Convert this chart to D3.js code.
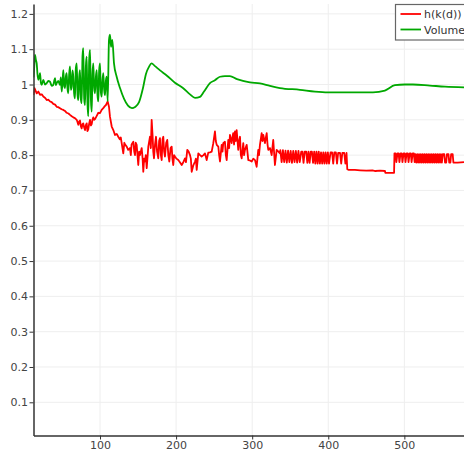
<!DOCTYPE html>
<html><head><meta charset="utf-8">
<script src="https://cdn.jsdelivr.net/npm/d3@7"></script>
<style>body{margin:0;background:#fff} svg{display:block;font-family:"DejaVu Sans",sans-serif}</style>
</head><body><svg id="c" width="464" height="454"></svg>
<script>
// ---------- data ----------
const seriesNames = ["h(k(d))", "Volume"];
const seriesColors = ["#ff0000", "#00a800"];
const xTicks = [100, 200, 300, 400, 500];
const xTickLabels = ["100", "200", "300", "400", "500"];
const yTicks = [0.1, 0.2, 0.3, 0.4, 0.5, 0.6, 0.7, 0.8, 0.9, 1, 1.1, 1.2];
const yTickLabels = ["0.1", "0.2", "0.3", "0.4", "0.5", "0.6", "0.7", "0.8", "0.9", "1", "1.1", "1.2"];

// h(k(d)) : [time step, value]
const hkd = [
  [12.6,0.97],[13.9,0.99],[16.8,0.975],[19,0.98],[21.2,0.971],[23.5,0.972],[25.5,0.966],[28,0.962],[30,0.956],[32,0.957],
  [34.3,0.952],[36.5,0.95],[38.6,0.945],[41,0.943],[43.1,0.937],[45,0.936],[47.4,0.933],[49.5,0.93],[51.8,0.928],[54,0.925],
  [56.2,0.92],[58.5,0.918],[60.6,0.914],[62.8,0.91],[64.9,0.907],[67,0.905],[69.4,0.9],[70.5,0.893],[71.5,0.886],[72.6,0.895],[73.7,0.898],
  [74.8,0.882],[75.9,0.876],[77,0.888],[78,0.89],[79.2,0.878],[80.3,0.871],[81.4,0.885],[82.5,0.89],[83.5,0.868],[84.6,0.873],[85.8,0.89],
  [86.9,0.9],[88,0.884],[89.1,0.888],[90.1,0.9],[91.2,0.907],[92.3,0.9],[93.5,0.902],[95.7,0.911],[97.8,0.92],
  [100,0.919],[102.2,0.928],[104.3,0.933],[106,0.938],[107.9,0.942],[110.1,0.952],[111.8,0.937],[113.1,0.909],[115.4,0.881],[117.5,0.871],
  [119.7,0.857],[122,0.86],[124,0.852],[126,0.845],[127.3,0.85],[128.5,0.834],[130.6,0.805],[132,0.835],[133,0.83],[135.1,0.824],[137,0.815],[139.4,0.82],
  [140.5,0.8],[141.5,0.83],[143.8,0.838],[145,0.81],[146,0.8],[147,0.835],[148.2,0.829],[150.3,0.772],[151.5,0.81],[152.5,0.8],[154.8,0.82],[156,0.79],[156.9,0.753],[158,0.79],[159.1,0.782],[160.2,0.8],[161.4,0.763],
  [163.5,0.824],[165.7,0.852],[166.8,0.82],[167.9,0.9],[169.2,0.852],[170,0.81],[171,0.791],[172.3,0.83],[173.6,0.852],[175,0.81],[176.6,0.791],[177.7,0.84],[178.8,0.848],[180,0.8],[181.1,0.786],[182.2,0.845],[183.2,0.852],
  [184.3,0.81],[185.4,0.796],[187,0.835],[188.4,0.843],[189.8,0.8],[191.1,0.782],[192.7,0.82],[194.2,0.824],[195.2,0.79],[196.3,0.772],[197.4,0.8],[198.5,0.796],[200.5,0.79],[202.9,0.786],[205,0.78],[207.4,0.772],
  [209.5,0.78],[211.7,0.791],[213,0.78],[214.7,0.815],[216.5,0.81],[218.3,0.8],[219.4,0.79],[220.5,0.753],[222.5,0.77],[224.9,0.782],[226,0.79],[227.1,0.758],[229.2,0.805],
  [231.5,0.8],[233.6,0.796],[236,0.8],[238,0.805],[240.2,0.786],[242.3,0.807],[244.5,0.808],[246.8,0.81],[248.9,0.834],[251.1,0.867],
  [252.2,0.84],[253.4,0.829],[255.5,0.824],[256.6,0.8],[257.7,0.782],[259.9,0.829],[261,0.81],[262,0.834],[264.2,0.838],[265.4,0.8],[266.5,0.786],[268.6,0.843],[269.7,0.82],[270.8,0.857],[273,0.834],
  [274,0.85],[275.1,0.862],[276.2,0.83],[277.4,0.867],[278.5,0.84],[279.6,0.871],[281.7,0.815],[282.8,0.84],[284,0.852],[285.1,0.8],[286.2,0.791],[288.3,0.834],[289.4,0.8],[290.5,0.815],[292.8,0.829],[294.9,0.786],
  [297,0.785],[299.4,0.782],[301.5,0.79],[303.7,0.786],[305.9,0.767],[308,0.815],[309,0.8],[310.2,0.829],[312.5,0.862],[313.5,0.84],[314.6,0.857],[316.8,0.834],
  [318,0.85],[319.1,0.862],[320.2,0.83],[321.2,0.815],[323.4,0.82],[325.6,0.8],[327.7,0.843],[329.9,0.772],[332.2,0.815],[334.5,0.81],[336.5,0.805],
  [337,0.814],[338.7,0.78],[340.4,0.814],[342.1,0.78],[343.8,0.813],[345.5,0.779],[347.2,0.813],[348.9,0.78],[350.6,0.812],[352.3,0.778],
  [354,0.812],[355.7,0.78],[357.4,0.812],[359.1,0.779],[360.8,0.812],[362.5,0.78],[364.5,0.81],[366,0.81],[367.5,0.778],[369,0.81],
  [371,0.81],[372.5,0.778],[374,0.81],[375.5,0.778],[377,0.81],[378.5,0.81],[380,0.778],[381.5,0.81],[383,0.776],[384.5,0.81],
  [386,0.776],[387.5,0.81],[389,0.776],[390.5,0.808],[392,0.776],[393.5,0.808],[395,0.776],[396.5,0.808],[398,0.776],[399.5,0.808],
  [401,0.776],[403,0.808],[405,0.808],[406.5,0.776],[408,0.808],[410,0.808],[411.5,0.776],[413,0.806],[415.5,0.806],[417,0.776],
  [418.5,0.806],[421,0.806],[422.5,0.776],[424,0.806],[425,0.76],[427,0.758],[435,0.758],[442,0.757],[450,0.756],[458,0.757],
  [462,0.755],[468,0.756],[474.5,0.755],[475,0.75],[480,0.75],[486.5,0.75],
  [487,0.805],[488.5,0.805],[489.5,0.78],[491,0.805],[492.5,0.805],[493.5,0.78],[495,0.805],[496.5,0.805],[497.5,0.78],[499,0.805],
  [500.5,0.805],[501.5,0.78],[503,0.805],[504.5,0.805],[505.5,0.78],[507,0.805],[508.5,0.805],[509.5,0.78],[511,0.805],[512.5,0.805],
  [513.5,0.78],[514.5,0.803],[515.7,0.779],[516.9,0.803],[518.1,0.779],[519.3,0.803],[520.5,0.779],[521.7,0.803],[522.9,0.779],[524.1,0.803],
  [525.3,0.779],[526.5,0.803],[527.7,0.779],[528.9,0.803],[530.1,0.779],[531.3,0.803],[532.5,0.779],[533.7,0.803],[534.9,0.779],[536.1,0.803],
  [537.3,0.779],[538.5,0.803],[539.7,0.779],[540.9,0.803],[542.1,0.779],[543.3,0.803],[544.5,0.779],[545.7,0.803],[546.9,0.779],[548.1,0.803],
  [549.3,0.779],[550.5,0.803],[552.5,0.803],[553.5,0.779],[555,0.779],[556,0.803],[558,0.803],[559,0.779],[560.5,0.779],[561.5,0.803],
  [563.5,0.803],[564.5,0.779],[570,0.779],[578.4,0.78]
];

// Volume : [time step, value]
const volume = [
  [12.6,1.02],[13.3,1.041],[14.6,1.084],[15.7,1.07],[16.8,1.06],[17.8,1.03],[18.9,1.013],[20,1.02],[21.2,1.032],[22.3,1.005],[23.4,0.999],[25.5,1.013],[27.8,1.0],[30,1.004],
  [32,1.01],[34.3,1.008],[36.5,0.996],[38.6,0.999],[39.8,1.01],[40.9,1.018],[42,0.998],[43.1,1.004],[45.2,1.01],[47.4,0.999],[48.5,1.02],
  [49.7,0.98],[50.8,1.01],[51.8,1.041],[53,0.995],[54,0.99],[55,1.02],[56.2,1.032],[57.2,0.99],[58.3,0.975],[59.5,1.03],[60.6,1.051],
  [61.7,0.985],[62.8,0.994],[63.9,1.04],[64.9,1.022],[66,0.975],[67.1,0.961],[68.2,1.045],[69.4,1.06],[70.5,0.97],[71.5,0.956],
  [72.6,1.02],[73.7,1.041],[74.8,0.96],[75.9,0.947],[77,1.08],[78,1.103],[79.2,0.96],[80.3,0.942],[81.4,1.05],[82.5,1.079],
  [83.5,0.95],[84.6,0.91],[85.8,1.07],[86.9,1.098],[88,0.96],[89.1,0.923],[90.1,1.03],[91.2,1.06],[92.3,0.99],[93.4,0.975],
  [94.5,1.02],[95.7,1.041],[96.7,0.97],[97.8,0.952],[98.9,1.04],[100,1.06],[101.1,0.98],[102.2,0.966],[103.2,1.01],[104.3,1.032],
  [105.5,0.985],[106.6,0.97],[107.7,1.01],[108.8,1.022],[110.1,0.952],[111.8,1.126],[113.1,1.141],[114.5,1.107],
  [116.2,1.126],[118.4,1.06],[121.9,1.022],[126.3,0.99],[131.5,0.96],[136.8,0.94],[142,0.933],[146,0.936],[151.3,0.95],[156.5,0.99],
  [160.4,1.03],[164.4,1.05],[167.7,1.06],[172.3,1.052],[178.9,1.04],[188,1.025],[198.5,1.005],[209,0.99],[218.3,0.972],[224.9,0.962],
  [231.4,0.965],[236.7,0.98],[244.5,1.004],[251,1.012],[257.7,1.022],[264.2,1.024],[270.8,1.024],[280,1.015],[287.9,1.01],[297.1,1.006],
  [310.2,1.003],[323.4,0.996],[336.5,0.99],[362.8,0.985],[382.5,0.98],[399.6,0.978],[428.5,0.978],[458.7,0.978],[474.4,0.983],[487.6,0.998],
  [500.7,1.0],[511.3,1.0],[533.6,0.997],[553.4,0.994],[578.4,0.992]
];

// ---------- drawing ----------
const svg = d3.select("#c");
const L = 33.5, R = 464, T = 4, B = 435.5;
const x = d3.scaleLinear().domain([12.6, 578.4]).range([L, R]);
const y = d3.scaleLinear().domain([0.006, 1.228]).range([B, T]);

// grid
svg.append("g").selectAll("line").data(xTicks).join("line")
  .attr("x1", d => x(d)).attr("x2", d => x(d)).attr("y1", T).attr("y2", B)
  .attr("stroke", "#eeeeee").attr("stroke-width", 1);
svg.append("g").selectAll("line").data(yTicks).join("line")
  .attr("x1", L).attr("x2", R).attr("y1", d => y(d)).attr("y2", d => y(d))
  .attr("stroke", "#eeeeee").attr("stroke-width", 1);

svg.append("defs").append("clipPath").attr("id", "clip")
  .append("rect").attr("x", L).attr("y", T).attr("width", R - L).attr("height", B - T);

const plot = svg.append("g").attr("clip-path", "url(#clip)");
const redLine = d3.line().x(d => x(d[0])).y(d => y(d[1]));
const greenLine = d3.line().x(d => x(d[0])).y(d => y(d[1])).curve(d3.curveMonotoneX);
plot.append("path").datum(hkd).attr("d", redLine)
  .attr("fill", "none").attr("stroke", seriesColors[0])
  .attr("stroke-width", 1.8).attr("stroke-linejoin", "round");
plot.append("path").datum(volume).attr("d", greenLine)
  .attr("fill", "none").attr("stroke", seriesColors[1])
  .attr("stroke-width", 1.8).attr("stroke-linejoin", "round");

// axes
const yAxis = d3.axisLeft(y).tickValues(yTicks).tickSize(4).tickSizeOuter(0).tickPadding(1.5)
  .tickFormat((d, i) => yTickLabels[i]);
const xAxis = d3.axisBottom(x).tickValues(xTicks).tickSize(4).tickSizeOuter(0).tickPadding(1.5)
  .tickFormat((d, i) => xTickLabels[i]);
const gy = svg.append("g").attr("transform", `translate(${L},0)`).call(yAxis);
const gx = svg.append("g").attr("transform", `translate(0,${B})`).call(xAxis);
[gx, gy].forEach(g => {
  g.select(".domain").attr("stroke", "#333").attr("stroke-width", 1.5);
  g.selectAll(".tick line").attr("stroke", "#333").attr("stroke-width", 1);
  g.selectAll(".tick text").attr("fill", "#444").style("font-size", "11px")
    .style("font-family", '"DejaVu Sans",sans-serif');
});

// legend
const lg = svg.append("g");
lg.append("rect").attr("x", 395.5).attr("y", 4.5).attr("width", 90).attr("height", 35.5)
  .attr("fill", "#fff").attr("stroke", "#666").attr("stroke-width", 1.2);
seriesNames.forEach((n, i) => {
  const yy = 14 + i * 15.5;
  lg.append("line").attr("x1", 400.5).attr("x2", 421).attr("y1", yy).attr("y2", yy)
    .attr("stroke", seriesColors[i]).attr("stroke-width", 1.8);
  lg.append("text").attr("x", 424).attr("y", yy + 4).text(n)
    .attr("fill", "#333").style("font-size", "11px");
});
</script></body></html>
